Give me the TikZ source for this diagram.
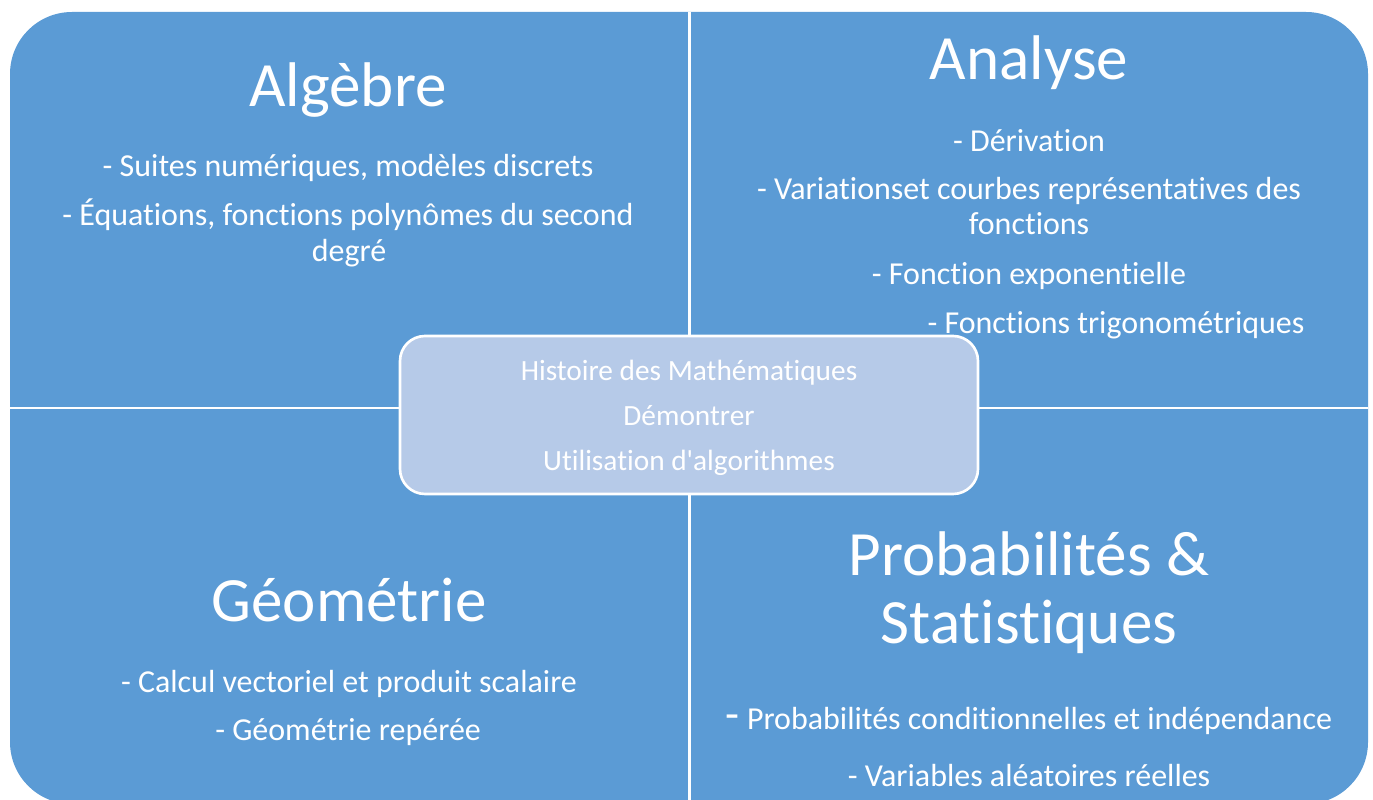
\documentclass[tikz,border=0pt]{standalone}
\usepackage{fontspec}
\setmainfont{Carlito}[Ligatures={TeX,NoCommon,NoContextual}]
\definecolor{quadblue}{RGB}{91,155,213}
\definecolor{centreblue}{RGB}{182,202,232}

\begin{document}
\begin{tikzpicture}[x=0.02cm, y=-0.02cm,
		titre/.style={text=white, inner sep=0pt, anchor=base, font=\fontsize{35.9}{39.8}\selectfont},
		puce/.style={text=white, inner sep=0pt, anchor=base, font=\fontsize{18.2}{19.9}\selectfont},
		milieu/.style={text=white, inner sep=0pt, anchor=base, font=\fontsize{16.7}{18}\selectfont}]
		\useasboundingbox (0, 0) rectangle (1373, 800);
		\clip (0, 0) rectangle (1373, 800);
		% fond et separations
		\fill[quadblue, rounded corners=1.24cm] (10, 12) rectangle (1368, 804);
		\draw[white, line width=1.7pt] (689, 12) -- (689, 804);
		\draw[white, line width=1.7pt] (10, 408) -- (1368, 408);
		% Algebre
		\node[titre] (alg) at (348, 107) {Algèbre};
		\node[puce] (alg1) at (348, 177) {- Suites numériques, modèles discrets};
		\node[puce] (alg2) at (348, 226) {- Équations, fonctions polynômes du second};
		\node[puce] (alg3) at (349, 262) {degré};
		% Analyse
		\node[titre] (ana) at (1029, 80) {Analyse};
		\node[puce] (ana1) at (1029, 152) {- Dérivation};
		\node[puce] (ana2) at (1029, 200) {- Variationset courbes représentatives des};
		\node[puce] (ana3) at (1029, 235) {fonctions};
		\node[puce] (ana4) at (1029, 285) {- Fonction exponentielle};
		\node[puce] (ana5) at (1116, 334) {- Fonctions trigonométriques};
		% Geometrie
		\node[titre] (geo) at (349, 621) {Géométrie};
		\node[puce] (geo1) at (349, 692) {- Calcul vectoriel et produit scalaire};
		\node[puce] (geo2) at (348, 740) {- Géométrie repérée};
		% Probabilites
		\node[titre] (proba) at (1029, 575) {Probabilités \&};
		\node[titre] (stat) at (1029, 643) {Statistiques};
		\node[puce] (proba1) at (1029, 729) {{\fontsize{26}{26}\selectfont -} Probabilités conditionnelles et indépendance};
		\node[puce] (proba2) at (1029, 786) {- Variables aléatoires réelles};
		% case centrale
		\draw[white, line width=1.5pt, fill=centreblue, rounded corners=0.5cm] (400, 336) rectangle (978, 494);
		\node[milieu] (hist) at (689, 381) {Histoire des Mathématiques};
		\node[milieu] (demo) at (689, 426) {Démontrer};
		\node[milieu] (algo) at (689, 471) {Utilisation d\textquotesingle algorithmes};
	\end{tikzpicture}
\end{document}
